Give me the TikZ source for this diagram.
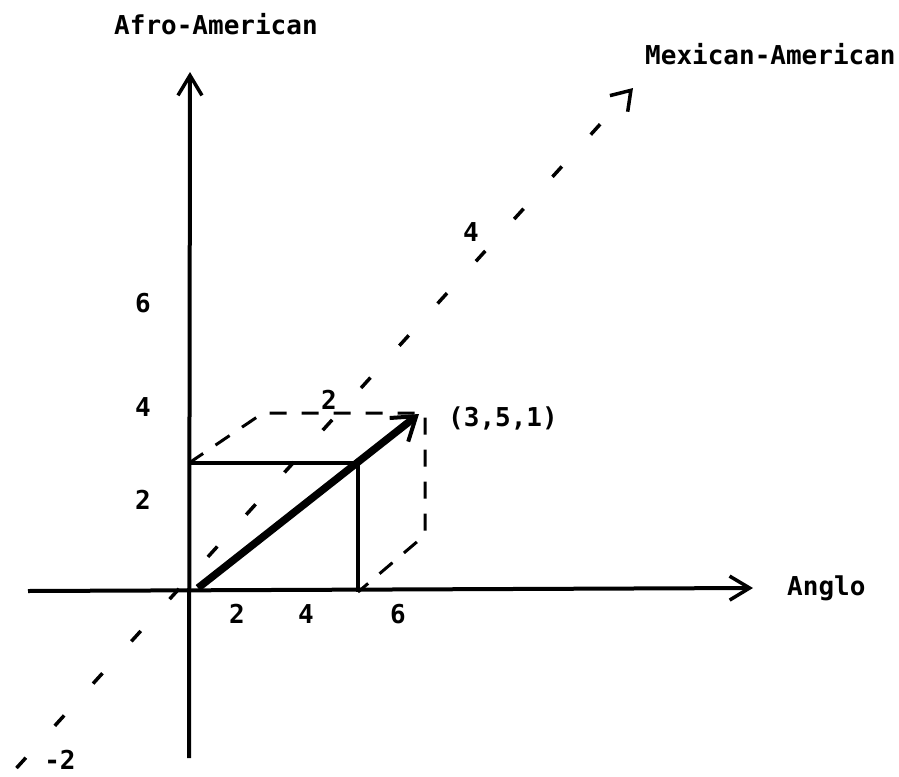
\documentclass[tikz,border=0pt]{standalone}
\usepackage{fontspec}
\setmonofont{DejaVu Sans Mono}
\usetikzlibrary{arrows.meta}

\begin{document}
\begin{tikzpicture}[x=1pt, y=-1pt,
    axis/.style={line width=4pt, -{Straight Barb[length=20pt, width=24pt, line width=3.5pt]}},
    edge/.style={line width=3.5pt},
    hidden/.style={line width=3pt, dash pattern=on 17pt off 15pt},
    diag/.style={line width=3.5pt, dash pattern=on 14pt off 43pt, dash phase=13pt, {Straight Barb[length=18pt, width=24pt, line width=3.5pt]}-},
    vec/.style={line width=7.5pt, -{Straight Barb[length=22pt, width=30pt, line width=4pt]}},
    lbl/.style={font=\ttfamily\bfseries\fontsize{26}{30}\selectfont, inner sep=0pt}
  ]
    \useasboundingbox (0,0) rectangle (899,776);
    \coordinate (anglolow) at (28,591);
    \coordinate (anglotip) at (753,588);
    \coordinate (afrolow) at (189,758);
    \coordinate (afrotip) at (190,72);
    \coordinate (mexlow) at (12,773);
    \coordinate (mextip) at (633,88);
    \coordinate (ftl) at (189,463);
    \coordinate (ftr) at (358,463);
    \coordinate (fbr) at (358,592);
    \coordinate (btl) at (263,413);
    \coordinate (btr) at (425,413);
    \coordinate (bbr) at (425,535);
    \coordinate (vecstart) at (198,588);
    \coordinate (vectip) at (419,414);
    \draw[axis] (anglolow) -- (anglotip);
    \draw[axis] (afrolow) -- (afrotip);
    \draw[diag] (mextip) -- (mexlow);
    \draw[edge] (ftl) -- (ftr) -- (fbr);
    \draw[hidden] (ftl) -- (btl) -- (btr) -- (bbr) -- (fbr);
    \draw[vec] (vecstart) -- (vectip);
    \node[lbl, anchor=base west] (afro) at (114,35) {Afro-American};
    \node[lbl, anchor=base west] (mex) at (645,65) {Mexican-American};
    \node[lbl, anchor=base west] (anglo) at (787,595) {Anglo};
    \node[lbl, anchor=base west] (point) at (448,426) {(3,5,1)};
    \node[lbl] (afrotwo) at (143,500) {2};
    \node[lbl] (afrofour) at (143,407) {4};
    \node[lbl] (afrosix) at (143,303) {6};
    \node[lbl] (anglotwo) at (237,614) {2};
    \node[lbl] (anglofour) at (306,614) {4};
    \node[lbl] (anglosix) at (398,614) {6};
    \node[lbl] (mextwo) at (329,400) {2};
    \node[lbl] (mexfour) at (471,232) {4};
    \node[lbl] (mexneg) at (60,760) {-2};
\end{tikzpicture}
\end{document}
